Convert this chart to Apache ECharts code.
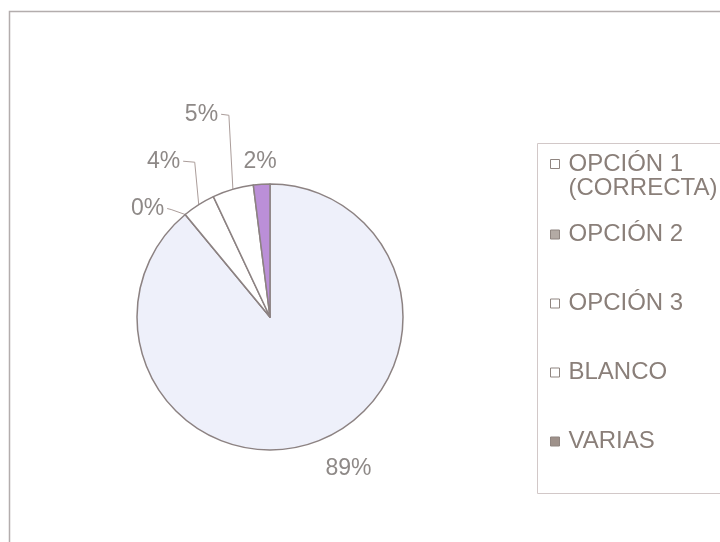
<!DOCTYPE html>
<html>
<head>
<meta charset="utf-8">
<script src="https://cdn.jsdelivr.net/npm/echarts@6/dist/echarts.min.js"></script>
<style>
  html, body { margin: 0; padding: 0; background: #ffffff; }
  #chart { width: 720px; height: 542px; }
</style>
</head>
<body>
<div id="chart"></div>
<script>
// Answer shares (percent), one per option
const categories = ['OPCIÓN 1\n(CORRECTA)', 'OPCIÓN 2', 'OPCIÓN 3', 'BLANCO', 'VARIAS'];
const percentages = [89, 0, 4, 5, 2];

// Styling per option
const sliceColors = ['#eef0fa', '#ffffff', '#ffffff', '#ffffff', '#bb8fd8'];
const legendIconColors = ['#ffffff', '#b3aaa4', '#ffffff', '#ffffff', '#9e918a'];

// Label placement relative to the slice's rim point; line: 'none' | 'up' | 'side'
const labelPlacement = [
  { dx: 33.5, dy: 26.5, line: 'none' },
  { dx: -37.7, dy: -6, line: 'side' },
  { dx: -35.2, dy: -43.5, line: 'up' },
  { dx: -31.4, dy: -75, line: 'up' },
  { dx: -1.6, dy: -23, line: 'none' }
];

const CX = 270, CY = 317, R = 133;
const FONT = "'Liberation Sans', Arial, sans-serif";

// Point on the rim at the middle of slice i (clockwise from 12 o'clock)
function rimPoint(i) {
  const total = percentages.reduce((a, b) => a + b, 0);
  let before = 0;
  for (let k = 0; k < i; k++) before += percentages[k];
  const mid = (before + percentages[i] / 2) / total * 2 * Math.PI;
  return [CX + R * Math.sin(mid), CY - R * Math.cos(mid)];
}

const chart = echarts.init(document.getElementById('chart'), null, { renderer: 'canvas' });

chart.setOption({
  animation: false,
  backgroundColor: '#ffffff',
  graphic: [
    {
      type: 'rect',
      shape: { x: 9.5, y: 11.5, width: 760, height: 560 },
      style: { fill: 'none', stroke: '#b3adad', lineWidth: 1.5 },
      silent: true
    },
    {
      type: 'rect',
      shape: { x: 537.5, y: 143.5, width: 260, height: 350 },
      style: { fill: 'none', stroke: '#d2c8c8', lineWidth: 1 },
      silent: true
    }
  ],
  legend: {
    orient: 'vertical',
    left: 550,
    top: 128,
    padding: 0,
    itemGap: 0,
    itemWidth: 9,
    itemHeight: 9,
    icon: 'rect',
    selectedMode: false,
    // a leading blank line keeps the icon level with the first line of a two-line name
    formatter: function (name) {
      return name.indexOf('\n') >= 0 ? '\n' + name : name;
    },
    textStyle: {
      fontSize: 24,
      fontFamily: FONT,
      color: '#8a7f79',
      lineHeight: 69,
      padding: [0, 0, 0, 4]
    },
    data: categories.map((name, i) => {
      const item = {
        name: name,
        itemStyle: { color: legendIconColors[i], borderColor: '#8f8580', borderWidth: 1 }
      };
      if (name.indexOf('\n') >= 0) item.textStyle = { lineHeight: 24 };
      return item;
    })
  },
  series: [{
    type: 'pie',
    center: [CX, CY],
    radius: R,
    startAngle: 90,
    clockwise: true,
    avoidLabelOverlap: false,
    emphasis: { disabled: true },
    itemStyle: { borderColor: '#8c8282', borderWidth: 1.5 },
    label: {
      show: true,
      position: 'outside',
      formatter: '{c}%',
      fontSize: 23,
      fontFamily: FONT,
      color: '#8e8987'
    },
    labelLine: {
      show: true,
      lineStyle: { color: '#ab9d9a', width: 1 }
    },
    labelLayout: function (p) {
      const i = p.dataIndex;
      const rim = rimPoint(i);
      const pl = labelPlacement[i];
      const x = rim[0] + pl.dx;
      const y = rim[1] + pl.dy;
      const res = { x: x, y: y, align: 'center', verticalAlign: 'middle' };
      if (pl.line !== 'none') {
        const endX = x + p.labelRect.width / 2 + 3;
        const cornerX = pl.line === 'up' ? rim[0] - 4 : endX + 4;
        res.labelLinePoints = [rim, [cornerX, y + 1], [endX, y]];
      }
      return res;
    },
    data: categories.map((name, i) => ({
      name: name,
      value: percentages[i],
      itemStyle: { color: sliceColors[i] },
      labelLine: { show: labelPlacement[i].line !== 'none' }
    }))
  }]
});
</script>
</body>
</html>
